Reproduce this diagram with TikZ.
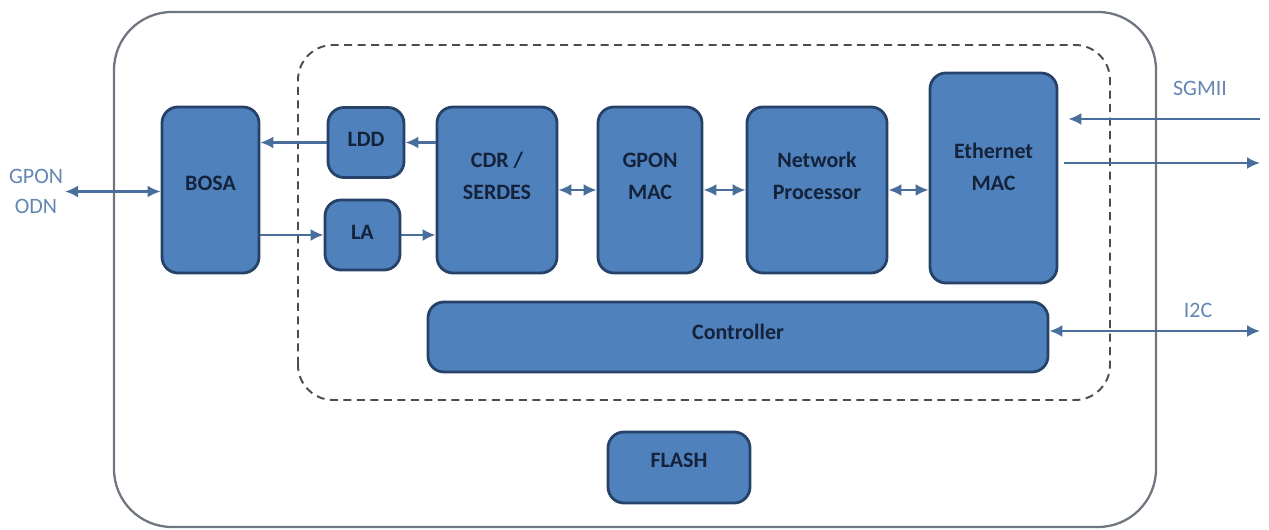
\documentclass[tikz,border=0pt]{standalone}
\usepackage{fontspec}
\setmainfont{Carlito}
\usetikzlibrary{arrows.meta}
\definecolor{blkfill}{RGB}{79,129,189}
\definecolor{blkedge}{RGB}{38,66,104}
\definecolor{blktext}{RGB}{20,34,58}
\definecolor{lnkcol}{RGB}{74,110,156}
\definecolor{extcol}{RGB}{100,134,178}
\definecolor{framecol}{RGB}{112,118,128}

\begin{document}
\begin{tikzpicture}[>={Latex[length=0.26cm,width=0.24cm]},
  blk/.style={draw=blkedge,line width=1.6pt,rounded corners=0.32cm,fill=blkfill,align=center,text=blktext,font=\fontsize{12.5}{18}\selectfont\bfseries,inner sep=0pt},
  lnk/.style={draw=lnkcol,line width=1.3pt},
  ext/.style={align=center,text=extcol,font=\fontsize{12.5}{17.5}\selectfont,inner sep=1pt}]
\useasboundingbox (0,0) rectangle (25.38,10.6);
% board outline and chip area
\draw[framecol,line width=1.3pt,rounded corners=1.16cm] (2.28,0.06) rectangle (23.12,10.36);
\draw[black!70,line width=1.1pt,dash pattern=on 0.16cm off 0.11cm,rounded corners=0.7cm] (5.96,2.6) rectangle (22.2,9.7);
% blocks
\node[blk,minimum width=1.94cm,minimum height=3.32cm,text depth=0.25cm] (bosa) at (4.21,6.8) {BOSA};
\node[blk,minimum width=1.52cm,minimum height=1.4cm,text depth=0.12cm] (ldd) at (7.32,7.75) {LDD};
\node[blk,minimum width=1.5cm,minimum height=1.4cm,text depth=0.1cm] (la) at (7.25,5.9) {LA};
\node[blk,minimum width=2.4cm,minimum height=3.32cm,text depth=0.56cm] (cdr) at (9.94,6.8) {CDR /\\SERDES};
\node[blk,minimum width=2.08cm,minimum height=3.32cm,text depth=0.56cm] (gpon) at (13.0,6.8) {GPON\\MAC};
\node[blk,minimum width=2.8cm,minimum height=3.32cm,text depth=0.56cm] (np) at (16.34,6.8) {Network\\Processor};
\node[blk,minimum width=2.54cm,minimum height=4.2cm,text depth=0.46cm] (eth) at (19.87,7.04) {Ethernet\\MAC};
\node[blk,minimum width=12.4cm,minimum height=1.4cm,text depth=0.2cm] (ctrl) at (14.76,3.86) {Controller};
\node[blk,minimum width=2.84cm,minimum height=1.42cm,text depth=0.3cm] (flash) at (13.58,1.25) {FLASH};
% outside labels
\node[ext] (odn) at (0.72,6.77) {GPON\\ODN};
\node[ext] (sgmii) at (24.0,8.84) {SGMII};
\node[ext] (i2c) at (23.96,4.4) {I2C};
\coordinate (sgin) at (25.2,8.22);
\coordinate (sgout) at (25.2,7.34);
\coordinate (i2cend) at (25.2,3.98);
% links
\draw[lnk,<->] (odn.east) -- (odn.east -| bosa.west);
\draw[lnk,->] (ldd.west) -- (ldd.west -| bosa.east);
\draw[lnk,->] (cdr.west |- ldd.east) -- (ldd.east);
\draw[lnk,->] (la.west -| bosa.east) -- (la.west);
\draw[lnk,->] (la.east) -- (la.east -| cdr.west);
\draw[lnk,<->] (cdr.east) -- (gpon.west);
\draw[lnk,<->] (gpon.east) -- (np.west);
\draw[lnk,<->] (np.east) -- (np.east -| eth.west);
\draw[lnk,->,shorten >=0.2cm] (sgin) -- (sgin -| eth.east);
\draw[lnk,->,shorten <=0.12cm] (sgout -| eth.east) -- (sgout);
\draw[lnk,<->] (ctrl.east |- i2cend) -- (i2cend);
\end{tikzpicture}
\end{document}
